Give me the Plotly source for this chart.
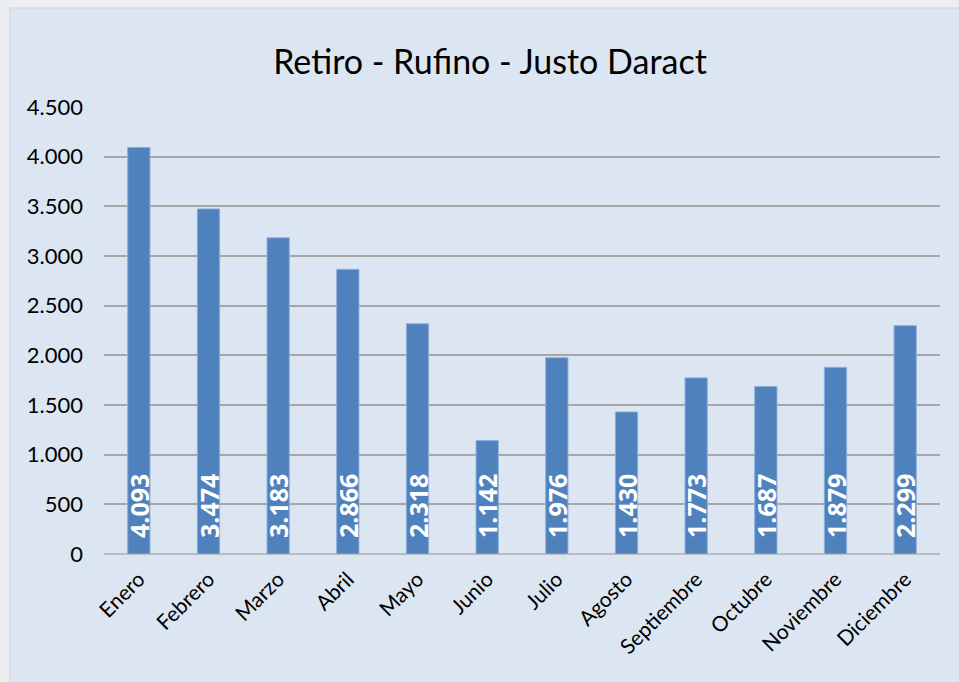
import plotly.graph_objects as go

months = ["Enero", "Febrero", "Marzo", "Abril", "Mayo", "Junio", "Julio",
          "Agosto", "Septiembre", "Octubre", "Noviembre", "Diciembre"]
values = [4093, 3474, 3183, 2866, 2318, 1142, 1976, 1430, 1773, 1687, 1879, 2299]
y_ticks = [0, 500, 1000, 1500, 2000, 2500, 3000, 3500, 4000, 4500]

W, H = 959, 682
L, R, T, B = 104, 19, 107, 128
pw, ph = W - L - R, H - T - B

def px_x(p):
    return (p - L) / pw

def px_y(p):
    return (H - B - p) / ph

FONT = "Lato, Open Sans, sans-serif"

fig = go.Figure()
fig.add_trace(go.Bar(
    x=months, y=values,
    marker=dict(color="#4f81bd", line=dict(color="#8eaedb", width=1)),
    texttemplate="\u00a0\u00a0<b>%{y:,}</b>",
    textposition="inside",
    insidetextanchor="start",
    textangle=-90,
    constraintext="none",
    textfont=dict(family="Open Sans, sans-serif", size=25, color="white"),
    cliponaxis=False,
))

fig.add_shape(type="rect", xref="paper", yref="paper",
              x0=px_x(10), x1=px_x(W + 5), y0=px_y(H + 5), y1=px_y(8),
              fillcolor="#dce6f2", line=dict(color="#d4d8df", width=1.5), layer="below")

fig.update_layout(
    width=W, height=H,
    margin=dict(l=L, r=R, t=T, b=B),
    paper_bgcolor="#eceef2",
    plot_bgcolor="rgba(0,0,0,0)",
    separators=",.",
    bargap=0.68,
    showlegend=False,
    font=dict(family=FONT, color="black"),
    title=dict(text="Retiro - Rufino - Justo Daract", x=490 / W, xanchor="center",
               y=1 - 62 / H, yanchor="middle",
               font=dict(size=34, color="black")),
    xaxis=dict(tickangle=-45, tickfont=dict(size=21), showgrid=False,
               showline=False, ticks="", ticklabelstandoff=8),
    yaxis=dict(range=[0, 4500], tickvals=y_ticks, tickformat=",d",
               tickfont=dict(size=22), showgrid=True, gridcolor="#a6a6a6",
               gridwidth=1.5, zeroline=True, zerolinecolor="#bcbcbc", zerolinewidth=2,
               showline=False, ticks="", ticklabelstandoff=20),
)

fig.write_html("out.html", config={"displayModeBar": False},
               post_script="document.body.style.margin='0';document.body.style.overflow='hidden';")
